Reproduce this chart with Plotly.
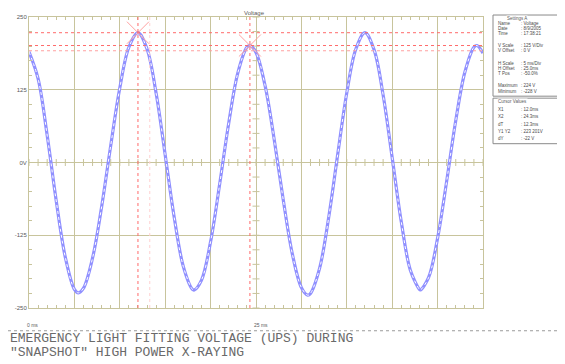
import plotly.graph_objects as go

# ---- data ----
time_ms = [0, 1, 2, 3, 4, 5, 5.44, 6, 7, 8, 9, 10, 11, 12, 13, 14, 15, 16, 17, 18, 18.2,
           19, 20, 21, 22, 23, 24, 24.33, 25, 26, 27, 28, 29, 30, 30.7, 31, 32, 33, 34, 35,
           36, 37, 38, 39, 40, 41, 42, 43, 43.1, 44, 45, 46, 47, 48, 49, 49.33, 50]
voltage = [190, 144, 47, -66, -163, -218, -224, -216, -164, -76, 29, 128, 198, 223, 195, 119,
           13, -95, -179, -218, -219, -202, -136, -37, 68, 154, 198, 201, 189, 132, 40, -64,
           -157, -215, -228, -225, -182, -95, 14, 120, 195, 223, 194, 116, 8, -102, -185, -218,
           -219, -198, -130, -32, 72, 155, 198, 201, 188]

cursor_x = [12.0, 24.33]
cursor_y = [223, 201]
extra_cursor_y = [192]
extra_cursor_x = [13.3]

y_tickvals = [-250, -125, 0, 125, 250]
y_ticktext = ["-250", "-125", "0V", "125", "250"]

x_labels = ["0 ms", "25 ms"]
x_label_pos = [0, 25]

settings_rows = [("Name", "Voltage"), ("Date", "8/9/2005"), ("Time", "17:38:21"),
                 ("V Scale", "125 V/Div"), ("V Offset", "0 V"),
                 ("H Scale", "5 ms/Div"), ("H Offset", "25.0ms"), ("T Pos", "-50.0%"),
                 ("Maximum", "224 V"), ("Minimum", "-228 V")]
settings_y = [21, 26, 31, 43, 48, 61, 66, 71, 83, 89]
cursor_rows = [("X1", "12.0ms"), ("X2", "24.3ms"), ("dT", "12.3ms"),
               ("Y1 Y2", "223 201V"), ("dY", "-22 V")]
cursor_rows_y = [107, 115, 123, 130, 137]

caption = ["EMERGENCY LIGHT FITTING VOLTAGE (UPS) DURING",
           "\"SNAPSHOT\" HIGH POWER X-RAYING"]

# ---- layout helpers (reference pixel coords; page has an 8px body offset) ----
OFF = 8
W, H = 565 - OFF, 364 - OFF
L, R, T, B = 29, 483, 14, 308   # plot area in screen pixels


def px(x):
    return (x - L) / (R - L)


def py(y):
    return (B - y) / (B - T)


GRID = "#c8c49c"
TXT = "#5a5a5a"
RED = "#ff6a6a"
SMALL = dict(size=5, color=TXT, family="Liberation Sans")

fig = go.Figure()
shapes = []

# minor ticks along centre lines (decoration)
fig.add_trace(go.Scatter(x=[i for i in range(0, 51)], y=[0] * 51, mode="markers",
                         marker=dict(symbol="line-ns", size=5, line=dict(color=GRID, width=1)),
                         hoverinfo="skip", showlegend=False))
fig.add_trace(go.Scatter(x=[25] * 21, y=[v for v in range(-250, 251, 25)], mode="markers",
                         marker=dict(symbol="line-ew", size=5, line=dict(color=GRID, width=1)),
                         hoverinfo="skip", showlegend=False))

# cursor lines
for cx in extra_cursor_x:
    shapes.append(dict(type="line", x0=cx, x1=cx, y0=0, y1=1, xref="x", yref="paper",
                       line=dict(color="#ffd0d0", width=1, dash="dot")))
for cy in extra_cursor_y:
    shapes.append(dict(type="line", x0=0, x1=1, y0=cy, y1=cy, xref="paper", yref="y",
                       line=dict(color="#ffa0a0", width=1, dash="dot")))
for cx in cursor_x:
    shapes.append(dict(type="line", x0=cx, x1=cx, y0=0, y1=1, xref="x", yref="paper",
                       line=dict(color=RED, width=1, dash="dot")))
for cy in cursor_y:
    shapes.append(dict(type="line", x0=0, x1=1, y0=cy, y1=cy, xref="paper", yref="y",
                       line=dict(color=RED, width=1, dash="dot")))

# waveform
fig.add_trace(go.Scatter(x=time_ms, y=voltage, mode="lines",
                         line=dict(color="#9090ff", width=3.2, shape="spline", smoothing=1.0),
                         showlegend=False))
fig.add_trace(go.Scatter(x=time_ms, y=voltage, mode="lines",
                         line=dict(color="#ffffff", width=1, dash="dot", shape="spline", smoothing=1.0),
                         showlegend=False))

# cursor crosses
fig.add_trace(go.Scatter(x=cursor_x, y=cursor_y, mode="markers",
                         marker=dict(symbol="x-thin", size=22, line=dict(color="#ffa0a0", width=1)),
                         showlegend=False, hoverinfo="skip"))
# top arrows
fig.add_trace(go.Scatter(x=cursor_x, y=[259, 257], mode="markers", cliponaxis=False,
                         marker=dict(symbol="triangle-down", size=5, color="#ff4040"),
                         showlegend=False, hoverinfo="skip"))

annotations = []
annotations.append(dict(x=px(254), y=py(5), xref="paper", yref="paper", text="Voltage",
                        showarrow=False, font=dict(size=6, color=TXT, family="Liberation Sans")))

for lab, pos in zip(x_labels, x_label_pos):
    annotations.append(dict(x=pos, y=py(325), xref="x", yref="paper", text=lab,
                            showarrow=False, xanchor="left", yanchor="middle",
                            xshift=-4, font=SMALL))

for i, line in enumerate(caption):
    annotations.append(dict(x=px(8), y=py(339 + 14 * i), xref="paper", yref="paper", text=line,
                            showarrow=False, xanchor="left", yanchor="middle",
                            font=dict(size=13, color="#6a6a6a", family="Liberation Mono")))

# info panel
shapes.append(dict(type="rect", x0=px(493), x1=px(563), y0=py(12), y1=py(94),
                   xref="paper", yref="paper", line=dict(color="#8a8a8a", width=1)))
shapes.append(dict(type="rect", x0=px(493), x1=px(563), y0=py(96), y1=py(142),
                   xref="paper", yref="paper", line=dict(color="#8a8a8a", width=1)))
TITF = dict(size=4.5, color=TXT, family="Liberation Sans")
annotations.append(dict(x=px(528), y=py(12), xref="paper", yref="paper", text="Settings A",
                        showarrow=False, bgcolor="white", borderpad=0, font=TITF))
annotations.append(dict(x=px(528), y=py(96), xref="paper", yref="paper", text="Cursor Values",
                        showarrow=False, bgcolor="white", borderpad=0, font=TITF))
ROWF = dict(size=4.5, color="#4a4a4a", family="Liberation Sans")
for (k, v), yy in zip(settings_rows + cursor_rows, settings_y + cursor_rows_y):
    annotations.append(dict(x=px(496), y=py(yy), xref="paper", yref="paper", text=k,
                            showarrow=False, xanchor="left", yanchor="middle", font=ROWF))
    annotations.append(dict(x=px(519), y=py(yy), xref="paper", yref="paper", text=": " + v,
                            showarrow=False, xanchor="left", yanchor="middle", font=ROWF))

# separator
shapes.append(dict(type="line", x0=px(8), x1=px(565), y0=py(331), y1=py(331),
                   xref="paper", yref="paper", line=dict(color="#9a9a9a", width=1, dash="dot")))

fig.update_layout(
    width=W, height=H,
    margin=dict(l=L - OFF, r=(565 - R), t=T - OFF, b=(364 - B), pad=0),
    paper_bgcolor="white", plot_bgcolor="white",
    shapes=shapes, annotations=annotations,
    xaxis=dict(range=[0, 50], dtick=5, showgrid=True, gridcolor=GRID, gridwidth=1,
               zeroline=False, showticklabels=False, showline=True, linecolor=GRID,
               mirror="ticks", ticks="inside", ticklen=3, tickcolor=GRID,
               minor=dict(dtick=1, ticks="inside", ticklen=3, tickcolor=GRID)),
    yaxis=dict(range=[-250, 250], tickvals=y_tickvals, ticktext=y_ticktext,
               showgrid=True, gridcolor=GRID, gridwidth=1, zeroline=False,
               showline=True, linecolor=GRID, mirror="ticks", ticks="inside",
               ticklen=3, tickcolor=GRID,
               tickfont=dict(size=6, color=TXT, family="Liberation Sans"),
               minor=dict(dtick=25, ticks="inside", ticklen=3, tickcolor=GRID)),
)

fig.write_html("out.html")
